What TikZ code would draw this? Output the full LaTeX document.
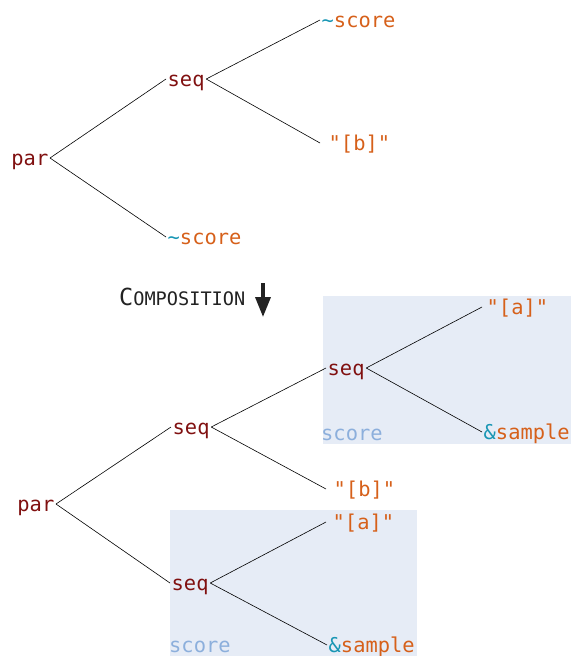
\documentclass[tikz,border=0pt]{standalone}
\usepackage{fontspec}
\setmonofont{DejaVu Sans Mono}
\renewcommand{\familydefault}{\ttdefault}
\usetikzlibrary{arrows.meta}
\definecolor{maroon}{RGB}{128,16,16}
\definecolor{leaforange}{RGB}{214,96,26}
\definecolor{tealc}{RGB}{24,150,180}
\definecolor{lblue}{RGB}{140,175,220}
\definecolor{boxfill}{RGB}{230,236,246}
\definecolor{darkg}{RGB}{34,34,34}
\tikzset{
  lbl/.style={font=\ttfamily\fontsize{20.4}{20.4}\selectfont, text height=14pt, text depth=0pt, inner ysep=0pt},
  parent/.style={lbl, text=maroon, inner xsep=1.5pt},
  leaf/.style={lbl, text=leaforange, inner xsep=1.5pt},
  qleaf/.style={lbl, text=leaforange},
  edge/.style={draw=black, line width=0.6pt},
  scopelbl/.style={lbl, text=lblue, inner xsep=0pt},
}
\begin{document}
\begin{tikzpicture}[x=1pt,y=-1pt]
\useasboundingbox (0,0) rectangle (571,656);
% boxes
\fill[boxfill] (323,296) rectangle (571,444);
\fill[boxfill] (170,510) rectangle (417,656);
% top tree
\node[parent, anchor=east] (p1) at (50,158) {par};
\node[parent, anchor=west] (s1) at (166,79) {seq};
\node[leaf, anchor=west] (l1) at (320,20) {\textcolor{tealc}{\textasciitilde}score};
\node[qleaf, inner xsep=8.5pt, anchor=west] (l2) at (320,143) {"[b]"};
\node[leaf, anchor=west] (l3) at (166,237) {\textcolor{tealc}{\textasciitilde}score};
\draw[edge] (p1.east) -- (s1.west);
\draw[edge] (p1.east) -- (l3.west);
\draw[edge] (s1.east) -- (l1.west);
\draw[edge] (s1.east) -- (l2.west);
% composition
\node[anchor=base west, inner sep=0pt, text=darkg] (comp) at (119,305)
  {\ttfamily\fontsize{23.5}{23.5}\selectfont C\fontsize{18.6}{18.6}\selectfont OMPOSITION};
\coordinate (a1) at (263,283);
\coordinate (a2) at (263,317);
\draw[line width=3.5pt, darkg, -{Triangle[length=20pt,width=15pt]}] (a1) -- (a2);
% bottom tree
\node[parent, anchor=east] (p2) at (56,504) {par};
\node[parent, anchor=west] (s2) at (171,427) {seq};
\node[parent, anchor=west] (s3) at (326,368) {seq};
\node[parent, anchor=west] (s4) at (170,583) {seq};
\node[qleaf, inner xsep=4.5pt, anchor=west] (b1) at (482,307) {"[a]"};
\node[leaf, anchor=west] (b2) at (482,432) {\textcolor{tealc}{\&}sample};
\node[qleaf, inner xsep=7.5pt, anchor=west] (b3) at (326,489) {"[b]"};
\node[qleaf, inner xsep=6.5pt, anchor=west] (b4) at (326,522) {"[a]"};
\node[leaf, anchor=west] (b5) at (327,645) {\textcolor{tealc}{\&}sample};
\node[scopelbl, anchor=west] (sc1) at (321,433) {score};
\node[scopelbl, anchor=west] (sc2) at (169,645) {score};
\draw[edge] (p2.east) -- (s2.west);
\draw[edge] (p2.east) -- (s4.west);
\draw[edge] (s2.east) -- (s3.west);
\draw[edge] (s2.east) -- (b3.west);
\draw[edge] (s3.east) -- (b1.west);
\draw[edge] (s3.east) -- (b2.west);
\draw[edge] (s4.east) -- (b4.west);
\draw[edge] (s4.east) -- (b5.west);
\end{tikzpicture}
\end{document}
